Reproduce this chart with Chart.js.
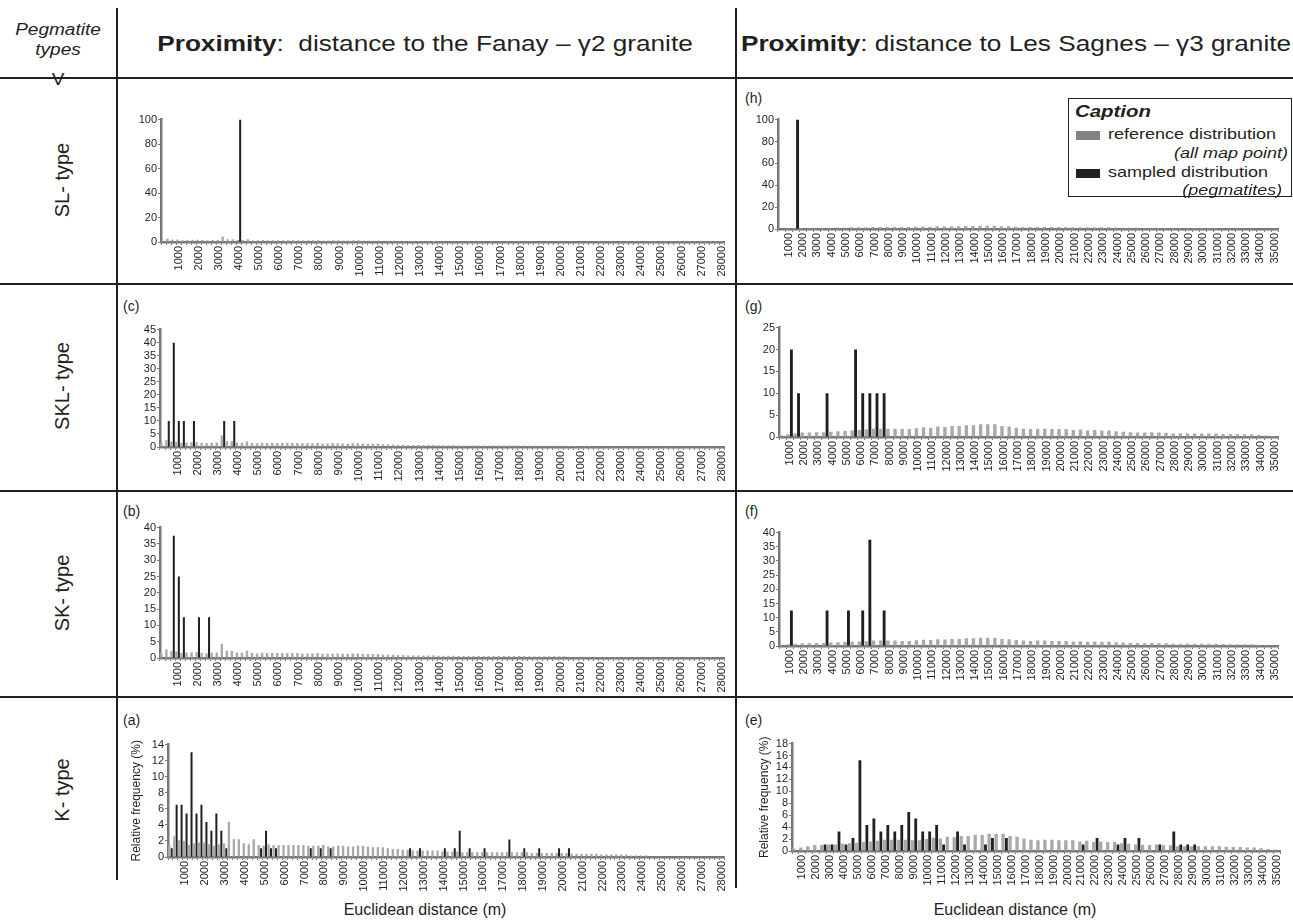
<!DOCTYPE html>
<html>
<head>
<meta charset="utf-8">
<script src="https://cdn.jsdelivr.net/npm/chart.js@4/dist/chart.umd.min.js"></script>
<style>
body { margin: 0; background: #fff; }
#page { position: relative; width: 1293px; height: 923px; overflow: hidden; background: #fff;
        font-family: "Liberation Sans", Arial, sans-serif; color: #231f20; }
.ln { position: absolute; background: #231f20; }
.txt { position: absolute; white-space: nowrap; line-height: 1; }
canvas { position: absolute; }
.rot { transform: translate(-50%, -50%) rotate(-90deg); }
.wide { transform: translate(-50%, -50%) scaleX(1.19); }
.mid { transform: translate(-50%, -50%); }
.sl { transform-origin: left center; transform: scaleX(1.2); }
.sr { transform-origin: right center; transform: scaleX(1.2); }
</style>
</head>
<body>
<div id="page">
  <div class="ln" style="left:116px;top:8px;width:1.5px;height:872px"></div>
  <div class="ln" style="left:735px;top:8px;width:1.5px;height:880px"></div>
  <div class="ln" style="left:0;top:77px;width:1293px;height:1.5px"></div>
  <div class="ln" style="left:0;top:283px;width:1293px;height:1.5px"></div>
  <div class="ln" style="left:0;top:490px;width:1293px;height:1.5px"></div>
  <div class="ln" style="left:0;top:696px;width:1293px;height:1.5px"></div>

  <div class="txt wide" style="left:58px;top:30px;font-style:italic;font-size:16px">Pegmatite</div>
  <div class="txt wide" style="left:58px;top:50px;font-style:italic;font-size:16px">types</div>
  <div class="txt wide" style="left:58px;top:80px;font-size:16px">V</div>

  <div class="txt wide" style="left:425px;top:44px;font-size:22px"><b>Proximity</b>:&nbsp; distance to the Fanay – γ2 granite</div>
  <div class="txt wide" style="left:1016px;top:44px;font-size:22px"><b>Proximity</b>: distance to Les Sagnes – γ3 granite</div>

  <div class="txt rot" style="left:62px;top:180px;font-size:20px">SL- type</div>
  <div class="txt rot" style="left:62px;top:386px;font-size:20px">SKL- type</div>
  <div class="txt rot" style="left:62px;top:593px;font-size:20px">SK- type</div>
  <div class="txt rot" style="left:62px;top:790px;font-size:20px">K- type</div>

  <div class="txt" style="left:745px;top:91px;font-size:14px">(h)</div>
  <div class="txt" style="left:123px;top:299px;font-size:14px">(c)</div>
  <div class="txt" style="left:745px;top:299px;font-size:14px">(g)</div>
  <div class="txt" style="left:123px;top:504px;font-size:14px">(b)</div>
  <div class="txt" style="left:745px;top:504px;font-size:14px">(f)</div>
  <div class="txt" style="left:123px;top:713px;font-size:14px">(a)</div>
  <div class="txt" style="left:745px;top:713px;font-size:14px">(e)</div>

  <div class="txt mid" style="left:425px;top:910px;font-size:16px">Euclidean distance (m)</div>
  <div class="txt mid" style="left:1015px;top:910px;font-size:16px">Euclidean distance (m)</div>

  <div id="caption" style="position:absolute;left:1068px;top:98px;width:222px;height:97px;border:1.5px solid #231f20;background:#fff;z-index:5">
    <div class="txt sl" style="left:6px;top:4px;font-size:17px;font-weight:bold;font-style:italic">Caption</div>
    <div style="position:absolute;left:7px;top:32px;width:24px;height:9px;background:#808285"></div>
    <div class="txt sl" style="left:39px;top:27px;font-size:15px">reference distribution</div>
    <div class="txt sr" style="right:3px;top:46px;font-size:15px;font-style:italic">(all map point)</div>
    <div style="position:absolute;left:7px;top:70px;width:24px;height:9px;background:#231f20"></div>
    <div class="txt sl" style="left:39px;top:65px;font-size:15px">sampled distribution</div>
    <div class="txt sr" style="right:9px;top:83px;font-size:15px;font-style:italic">(pegmatites)</div>
  </div>
</div>

<script>
// distance classes (upper bound of each bin, in metres)
const fanayBins = [];
for (let d = 250; d <= 28000; d += 250) fanayBins.push(d);
const sagnesBins = [];
for (let d = 500; d <= 35000; d += 500) sagnesBins.push(d);

// reference distribution (all map points), % per bin
const fanayRef = [
  1.5, 2.6, 2.1, 2.0, 1.5, 1.7, 1.8, 1.8, 1.6, 1.4, 1.6, 1.7,
  4.4, 2.2, 2.2, 1.7, 1.6, 2.2, 1.5, 1.4, 1.6, 1.5,
  1.5, 1.5, 1.5, 1.5, 1.5, 1.5, 1.4, 1.4, 1.4, 1.5,
  1.3, 1.3, 1.4, 1.4, 1.3, 1.3, 1.4, 1.4, 1.3, 1.2,
  1.2, 1.2, 1.1, 1.0, 1.0, 0.9, 0.9, 0.8, 0.8, 0.8,
  0.8, 0.8, 0.8, 0.7, 0.7, 0.7, 0.7, 0.6, 0.6, 0.6,
  0.6, 0.6, 0.6, 0.6, 0.6, 0.6, 0.6, 0.6, 0.6, 0.6,
  0.6, 0.5, 0.5, 0.5, 0.5, 0.5, 0.5, 0.5, 0.5, 0.4,
  0.4, 0.4, 0.4, 0.4, 0.4, 0.3, 0.3, 0.3, 0.3, 0.3,
  0.3, 0.2, 0.2, 0.2, 0.2, 0.1, 0.1, 0.1, 0.05, 0.05,
  0.05, 0.05, 0.05, 0.05, 0.05, 0.05, 0.05, 0.05, 0.05, 0.05
];
const sagnesRef = [
  0.4, 0.6, 0.8, 1.0, 1.0, 1.1, 1.1, 1.2, 1.3, 1.4,
  1.5, 1.6, 1.7, 1.9, 1.9, 1.9, 1.9, 1.8, 1.8, 2.0,
  2.2, 2.1, 2.4, 2.3, 2.5, 2.5, 2.7, 2.7, 2.9, 2.9,
  2.9, 2.5, 2.4, 2.1, 1.9, 1.8, 1.9, 1.9, 1.8, 1.8,
  1.8, 1.6, 1.7, 1.5, 1.6, 1.5, 1.5, 1.3, 1.2, 1.1,
  1.05, 1.0, 1.1, 1.0, 0.95, 0.8, 0.8, 0.8, 0.8, 0.8,
  0.8, 0.8, 0.7, 0.65, 0.65, 0.6, 0.6, 0.45, 0.35, 0.25
];

// sampled distributions (pegmatites): bin upper bound -> %
const slFanayDist = [4000];
const slFanayPct = [100];
const sklFanayDist = [500, 750, 1000, 1250, 1750, 3250, 3750];
const sklFanayPct = [10, 40, 10, 10, 10, 10, 10];
const skFanayDist = [750, 1000, 1250, 2000, 2500];
const skFanayPct = [37.5, 25, 12.5, 12.5, 12.5];
const kFanayDist = [250, 500, 750, 1000, 1250, 1500, 1750, 2000, 2250, 2500, 2750, 3000,
  4750, 5000, 5250, 5500, 7250, 7750, 8250, 12250, 12750,
  14000, 14500, 14750, 15250, 16000, 17250, 18000, 18750, 19750, 20250];
const kFanayPct = [1.09, 6.52, 6.52, 5.43, 13.04, 5.43, 6.52, 4.35, 3.26, 5.43, 3.26, 1.09,
  1.09, 3.26, 1.09, 1.09, 1.09, 1.09, 1.09, 1.09, 1.09,
  1.09, 1.09, 3.26, 1.09, 1.09, 2.17, 1.09, 1.09, 1.09, 1.09];

const slSagnesDist = [1500];
const slSagnesPct = [100];
const sklSagnesDist = [1000, 1500, 3500, 5500, 6000, 6500, 7000, 7500];
const sklSagnesPct = [20, 10, 10, 20, 10, 10, 10, 10];
const skSagnesDist = [1000, 3500, 5000, 6000, 6500, 7500];
const skSagnesPct = [12.5, 12.5, 12.5, 12.5, 37.5, 12.5];
const kSagnesDist = [2500, 3000, 3500, 4000, 4500, 5000, 5500, 6000, 6500, 7000, 7500, 8000,
  8500, 9000, 9500, 10000, 10500, 11000, 12000, 12500, 14000, 14500, 15500,
  21000, 22000, 23500, 24000, 25000, 26500, 27500, 28000, 28500, 29000];
const kSagnesPct = [1.09, 1.09, 3.26, 1.09, 2.17, 15.2, 4.35, 5.43, 3.26, 4.35, 3.26, 4.35,
  6.52, 5.43, 3.26, 3.26, 4.35, 1.09, 3.26, 1.09, 1.09, 2.17, 2.17,
  1.09, 2.17, 1.09, 2.17, 2.17, 1.09, 3.26, 1.09, 1.09, 1.09];

const GREY = '#a7a9ac';
const BLACK = '#231f20';
const AXIS = '#77787b';
const TXT = '#231f20';
const FONT = '"Liberation Sans", Arial, sans-serif';

function toSeries(bins, dist, pct) {
  const out = bins.map(() => null);
  dist.forEach((d, i) => { out[bins.indexOf(d)] = pct[i]; });
  return out;
}

function makePanel(p) {
  const page = document.getElementById('page');
  const canvas = document.createElement('canvas');
  const padTop = 7, padRight = 8, xH = 38;
  const top = p.yTop - padTop;
  const w = p.xEnd - p.left + padRight;
  const h = p.yZero - top + xH;
  canvas.width = w;
  canvas.height = h;
  canvas.style.left = p.left + 'px';
  canvas.style.top = top + 'px';
  page.appendChild(canvas);

  const yW = p.axisX - p.left;
  new Chart(canvas, {
    type: 'bar',
    data: {
      labels: p.bins,
      datasets: [
        { data: p.ref, backgroundColor: GREY, barPercentage: 1, categoryPercentage: 0.95 },
        { data: toSeries(p.bins, p.dist, p.pct), backgroundColor: BLACK, barPercentage: 0.85, categoryPercentage: 0.95 }
      ]
    },
    options: {
      responsive: false,
      animation: false,
      layout: { padding: { top: padTop, right: padRight, left: 0, bottom: 0 } },
      plugins: { legend: { display: false }, tooltip: { enabled: false } },
      scales: {
        x: {
          grid: { drawOnChartArea: false, drawTicks: true, tickLength: 3, color: AXIS, offset: true },
          border: { color: AXIS, width: 2.5 },
          ticks: {
            autoSkip: false, maxRotation: 90, minRotation: 90, padding: 1,
            color: TXT, font: { family: FONT, size: 11 },
            callback: (v, i) => (p.bins[i] % 1000 === 0 ? String(p.bins[i]) : '')
          },
          afterFit: (s) => { s.height = xH; }
        },
        y: {
          min: 0, max: p.max,
          grid: { drawOnChartArea: false, drawTicks: true, tickLength: 3, color: AXIS },
          border: { color: AXIS, width: 2.5 },
          ticks: { stepSize: p.step, autoSkip: false, padding: 1, color: TXT, font: { family: FONT, size: 11 } },
          title: { display: !!p.title, text: p.title || '', color: TXT, padding: 0,
                   font: { family: FONT, size: 12 } },
          afterFit: (s) => { s.width = yW; }
        }
      }
    }
  });
}

// left column: distance to the Fanay granite
makePanel({ left: 131, axisX: 161, yTop: 119, yZero: 242, xEnd: 728, max: 100, step: 20,
  bins: fanayBins, ref: fanayRef, dist: slFanayDist, pct: slFanayPct });
makePanel({ left: 130, axisX: 160, yTop: 329, yZero: 447, xEnd: 728, max: 45, step: 5,
  bins: fanayBins, ref: fanayRef, dist: sklFanayDist, pct: sklFanayPct });
makePanel({ left: 130, axisX: 160, yTop: 527, yZero: 658, xEnd: 728, max: 40, step: 5,
  bins: fanayBins, ref: fanayRef, dist: skFanayDist, pct: skFanayPct });
makePanel({ left: 129, axisX: 168, yTop: 744, yZero: 857, xEnd: 728, max: 14, step: 2,
  bins: fanayBins, ref: fanayRef, dist: kFanayDist, pct: kFanayPct, title: 'Relative frequency (%)' });

// right column: distance to Les Sagnes granite
makePanel({ left: 748, axisX: 778, yTop: 119, yZero: 229, xEnd: 1281, max: 100, step: 20,
  bins: sagnesBins, ref: sagnesRef, dist: slSagnesDist, pct: slSagnesPct });
makePanel({ left: 751, axisX: 779, yTop: 327, yZero: 437, xEnd: 1281, max: 25, step: 5,
  bins: sagnesBins, ref: sagnesRef, dist: sklSagnesDist, pct: sklSagnesPct });
makePanel({ left: 749, axisX: 779, yTop: 532, yZero: 646, xEnd: 1281, max: 40, step: 5,
  bins: sagnesBins, ref: sagnesRef, dist: skSagnesDist, pct: skSagnesPct });
makePanel({ left: 757, axisX: 792, yTop: 743, yZero: 851, xEnd: 1283, max: 18, step: 2,
  bins: sagnesBins, ref: sagnesRef, dist: kSagnesDist, pct: kSagnesPct, title: 'Relative frequency (%)' });
</script>
</body>
</html>
